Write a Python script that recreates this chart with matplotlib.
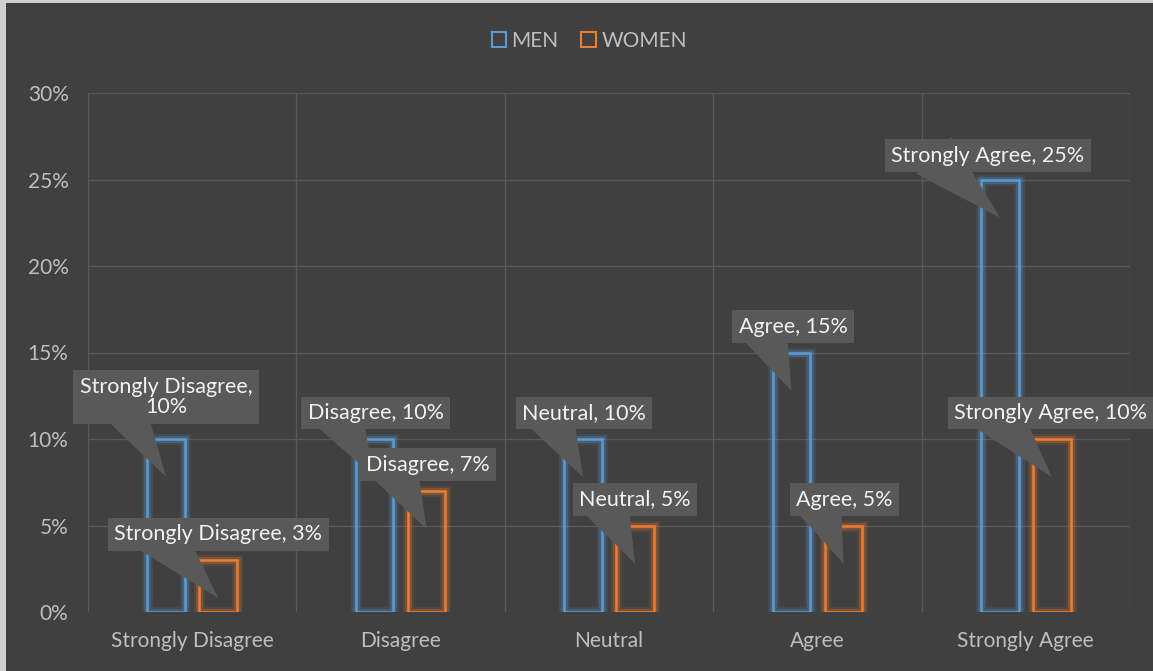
import numpy as np
import matplotlib
matplotlib.use("Agg")
import matplotlib.pyplot as plt
import matplotlib.patheffects as pe
import matplotlib.transforms as mtransforms
from matplotlib.patches import Rectangle

# data
categories = ['Strongly Disagree', 'Disagree', 'Neutral', 'Agree', 'Strongly Agree']
men = [0.10, 0.10, 0.10, 0.15, 0.25]
women = [0.03, 0.07, 0.05, 0.05, 0.10]
men_labels = ['Strongly Disagree,\n10%', 'Disagree, 10%', 'Neutral, 10%', 'Agree, 15%', 'Strongly Agree, 25%']
women_labels = ['Strongly Disagree, 3%', 'Disagree, 7%', 'Neutral, 5%', 'Agree, 5%', 'Strongly Agree, 10%']

# callout box offsets (pixels) from the pointer tip
men_offsets = [(0, 80), (1, 64), (1, 64), (2, 64), (-12, 62)]
women_offsets = [(0, 64), (1, 64), (0, 64), (1, 64), (-1, 64)]

BG = '#404040'
GRID = '#595959'
TXT = '#bfbfbf'
BLUE = '#5b9bd5'
ORANGE = '#ed7d31'
CALLOUT = '#595959'

plt.rcParams['font.family'] = ['Lato', 'DejaVu Sans']

fig = plt.figure(figsize=(11.53, 6.71), dpi=100, facecolor=BG)
ax = fig.add_axes([88 / 1153, 59 / 671, 1042 / 1153, 519 / 671])
ax.set_facecolor(BG)

x = np.arange(len(categories))
off = 0.125
w = 0.18


def glow(c):
    return [pe.Stroke(linewidth=8, foreground=c, alpha=0.12),
            pe.Stroke(linewidth=5, foreground=c, alpha=0.25),
            pe.Normal()]


b1 = ax.bar(x - off, men, width=w, facecolor='none', edgecolor=BLUE, linewidth=1.8)
b2 = ax.bar(x + off, women, width=w, facecolor='none', edgecolor=ORANGE, linewidth=1.8)
for p in list(b1) + list(b2):
    p.set_path_effects(glow(p.get_edgecolor()))

ax.set_xlim(-0.5, len(categories) - 0.5)
ax.set_ylim(0, 0.30)
ax.set_yticks(np.arange(0, 0.301, 0.05))
ax.set_yticklabels([f'{int(round(v * 100))}%' for v in np.arange(0, 0.301, 0.05)])
ax.set_xticks(x)
ax.set_xticklabels(categories)
ax.set_xticks(np.arange(-0.5, len(categories), 1), minor=True)

for s in ax.spines.values():
    s.set_visible(False)
ax.tick_params(axis='both', which='both', length=0, colors=TXT, labelsize=15)
ax.tick_params(axis='y', pad=14)
ax.tick_params(axis='x', pad=14)
ax.grid(True, axis='x', which='minor', color=GRID, lw=1)
for yv in np.arange(0.05, 0.301, 0.05):
    ax.axhline(yv, color=GRID, lw=1, zorder=0)
ax.set_axisbelow(True)


def callout(xv, yv, text, dx, dy):
    tip = mtransforms.offset_copy(ax.transData, fig=fig, x=0, y=-38, units='dots')
    ax.annotate(text, xy=(xv, yv), xycoords=tip,
                xytext=(dx, dy), textcoords='offset pixels',
                ha='center', va='center', ma='center', fontsize=15.5, color='#f2f2f2',
                linespacing=1.05,
                bbox=dict(boxstyle='square,pad=0.3', fc=CALLOUT, ec='none'),
                arrowprops=dict(arrowstyle='wedge,tail_width=2.6,shrink_factor=0.5',
                                fc=CALLOUT, ec='none', relpos=(0.22, 0.5),
                                patchA=None, shrinkA=0, shrinkB=0, mutation_scale=14),
                zorder=4)


for i in range(len(categories)):
    callout(x[i] - off, men[i], men_labels[i], *men_offsets[i])
for i in range(len(categories)):
    callout(x[i] + off, women[i], women_labels[i], *women_offsets[i])

h1 = Rectangle((0, 0), 1, 1, facecolor='none', edgecolor=BLUE, lw=1.5)
h2 = Rectangle((0, 0), 1, 1, facecolor='none', edgecolor=ORANGE, lw=1.5)
leg = fig.legend(handles=[h1, h2], labels=['MEN', 'WOMEN'], loc='center', bbox_to_anchor=(0.511, 0.939),
                 ncol=2, frameon=False, fontsize=15, labelcolor=TXT,
                 handlelength=0.7, handleheight=0.7, handletextpad=0.25, columnspacing=1.1)

# light border of the chart frame
fig.add_artist(Rectangle((0, 0), 6 / 1153, 1, transform=fig.transFigure, color='#d0d0d0', lw=0))
fig.add_artist(Rectangle((0, 1 - 3 / 671), 1, 3 / 671, transform=fig.transFigure, color='#d0d0d0', lw=0))

fig.savefig('out.png', dpi=100, facecolor=BG)
